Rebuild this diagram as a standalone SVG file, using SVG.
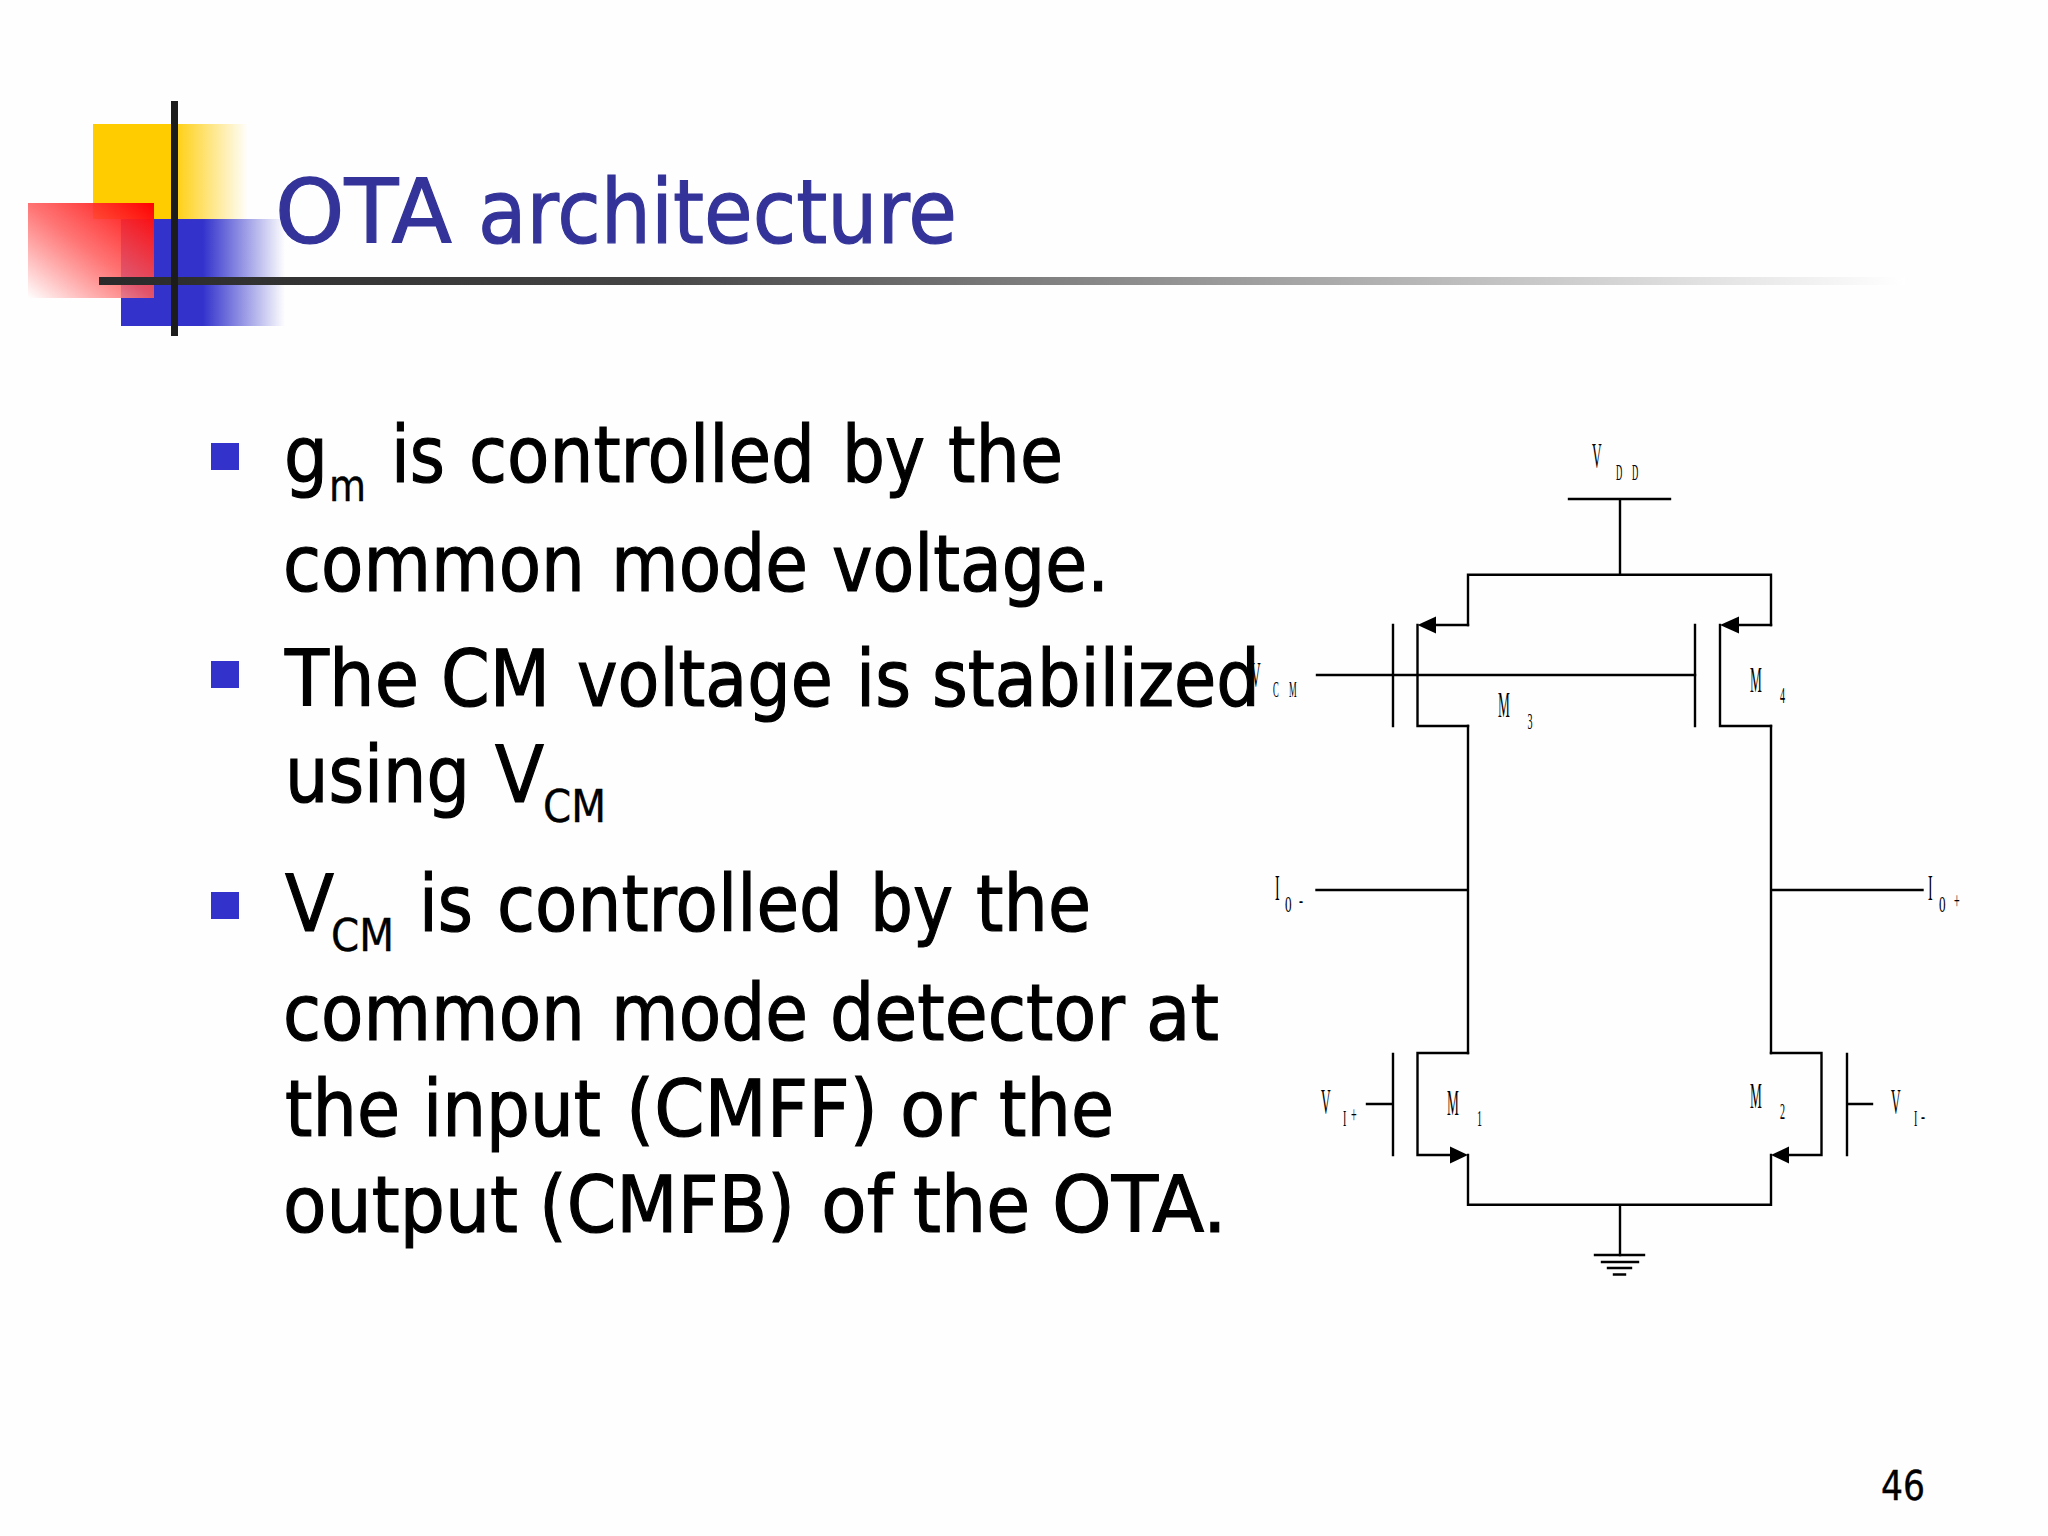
<svg xmlns="http://www.w3.org/2000/svg" width="2048" height="1536" viewBox="0 0 2048 1536">
<style>
.b{font-family:"DejaVu Sans","Noto Sans",sans-serif;font-size:78px;fill:#000;stroke:#000;stroke-width:1.2}
.s{font-family:"DejaVu Sans","Noto Sans",sans-serif;font-size:44px;fill:#000;stroke:#000;stroke-width:.4}
.t{font-family:"DejaVu Sans","Noto Sans",sans-serif;font-size:89px;fill:#333399;stroke:#333399;stroke-width:1.2}
.n{font-family:"DejaVu Sans","Noto Sans",sans-serif;font-size:40px;fill:#000;stroke:#000;stroke-width:.4}
.L{font-family:"Liberation Serif",serif;font-size:35px;fill:#000}
.l{font-family:"Liberation Serif",serif;font-size:24px;fill:#000}
.w{stroke:#000;stroke-width:2.4;fill:none;stroke-linecap:square}
.a{fill:#000}
.k{fill:#3333cc}
</style>
<defs>
<linearGradient id="gy" x1="0" x2="1" y1="0" y2="0"><stop offset="0" stop-color="#ffcc00"/><stop offset=".5" stop-color="#ffcc00"/><stop offset="1" stop-color="#ffcc00" stop-opacity="0"/></linearGradient>
<linearGradient id="gb" x1="0" x2="1" y1="0" y2="0"><stop offset="0" stop-color="#3333cc"/><stop offset=".5" stop-color="#3333cc"/><stop offset="1" stop-color="#3333cc" stop-opacity="0"/></linearGradient>
<linearGradient id="gr" x1="1" x2="0" y1="0" y2="1"><stop offset="0" stop-color="#ff0000"/><stop offset=".5" stop-color="#ff5a5a" stop-opacity=".85"/><stop offset="1" stop-color="#ffffff" stop-opacity=".95"/></linearGradient>
<linearGradient id="gl" gradientUnits="userSpaceOnUse" x1="99" x2="1905" y1="0" y2="0"><stop offset="0" stop-color="#2a2a2a"/><stop offset=".3" stop-color="#444444"/><stop offset="1" stop-color="#ffffff"/></linearGradient>
</defs>
<rect width="2048" height="1536" fill="#fefefe"/>
<g id="logo">
<rect x="93" y="124" width="155" height="95" fill="url(#gy)"/>
<rect x="121" y="219" width="164" height="107" fill="url(#gb)"/>
<rect x="28" y="203" width="126" height="95" fill="url(#gr)"/>
<rect x="99" y="277" width="1806" height="8" fill="url(#gl)"/>
<rect x="171" y="101" width="7" height="235" fill="#1c1c1c"/>
</g>
<text id="title" class="t" y="243"><tspan x="275" textLength="177" lengthAdjust="spacingAndGlyphs">OTA</tspan> <tspan x="478" textLength="479" lengthAdjust="spacingAndGlyphs">architecture</tspan></text>
<g id="connectors" class="w">
<path class="w" d="M1569 499H1670M1620 499V574.7M1468 625V574.7H1771V625M1468 726V1053M1771 726V1053M1317 675H1695M1316.5 890H1468M1771 890H1922.5M1468 1155V1204.7H1771V1155M1620 1204.7V1255"/>
</g>
<g id="M3">
<path class="w" d="M1393 625V726M1417.5 625V726H1468M1468 625H1430"/>
<polygon class="a" points="1417.5,625 1436,616.5 1436,633.5"/>
<text class="L" transform="translate(1498 717) scale(.38 1)">M</text>
<text class="l" transform="translate(1527.5 729) scale(.42 1)">3</text>
</g>
<g id="M4">
<path class="w" d="M1695 625V726M1720 625V726H1771M1771 625H1730"/>
<polygon class="a" points="1720,625 1739,616.5 1739,633.5"/>
<text class="L" transform="translate(1750 692) scale(.38 1)">M</text>
<text class="l" transform="translate(1780 703) scale(.42 1)">4</text>
</g>
<g id="M1">
<path class="w" d="M1393 1054V1155M1417.5 1155V1053H1468M1417.5 1155H1455M1367 1104H1393"/>
<polygon class="a" points="1468,1155 1450,1146.5 1450,1163.5"/>
<text class="L" transform="translate(1447 1115) scale(.38 1)">M</text>
<text class="l" transform="translate(1477 1126) scale(.42 1)">1</text>
</g>
<g id="M2">
<path class="w" d="M1847 1054V1155M1821.5 1155V1053H1771M1821.5 1155H1785M1847 1104H1872"/>
<polygon class="a" points="1771,1155 1789,1146.5 1789,1163.5"/>
<text class="L" transform="translate(1750 1108) scale(.38 1)">M</text>
<text class="l" transform="translate(1780 1119) scale(.42 1)">2</text>
</g>
<g id="vdd">
<text class="L" transform="translate(1592 468) scale(.38 1)">V</text>
<text class="l" transform="translate(1616 480) scale(.36 1)">D</text>
<text class="l" transform="translate(1632 480) scale(.36 1)">D</text>
</g>
<g id="vcm">
<text class="L" transform="translate(1251 687) scale(.38 1)">V</text>
<text class="l" transform="translate(1273 697) scale(.36 1)">C</text>
<text class="l" transform="translate(1289 697) scale(.36 1)">M</text>
</g>
<g id="io-minus">
<text class="L" transform="translate(1275 900) scale(.4 1)">I</text>
<text class="l" transform="translate(1285 912) scale(.55 1)">0</text>
<text class="l" transform="translate(1299 908) scale(.5 1)">-</text>
</g>
<g id="io-plus">
<text class="L" transform="translate(1928 900) scale(.4 1)">I</text>
<text class="l" transform="translate(1939 912) scale(.55 1)">0</text>
<text class="l" transform="translate(1954 908) scale(.42 1)">+</text>
</g>
<g id="vi-plus">
<text class="L" transform="translate(1321 1114) scale(.38 1)">V</text>
<text class="l" transform="translate(1343 1126) scale(.42 1)">I</text>
<text class="l" transform="translate(1351 1122) scale(.42 1)">+</text>
</g>
<g id="vi-minus">
<text class="L" transform="translate(1891 1114) scale(.38 1)">V</text>
<text class="l" transform="translate(1914 1126) scale(.42 1)">I</text>
<text class="l" transform="translate(1921 1124) scale(.5 1)">-</text>
</g>
<g id="ground">
<path class="w" d="M1595 1255H1644M1602 1262H1638M1608 1268H1631M1614 1274.5H1625" stroke-linecap="butt"/>
</g>
<g id="bullets">
<rect class="k" x="211" y="443" width="28" height="27"/>
<rect class="k" x="211" y="661" width="28" height="27"/>
<rect class="k" x="211" y="892" width="28" height="27"/>
</g>
<g id="body">
<text class="b" x="284" y="482" textLength="44" lengthAdjust="spacingAndGlyphs">g</text>
<text class="s" x="329" y="501" textLength="37" lengthAdjust="spacingAndGlyphs">m</text>
<text class="b" y="482"><tspan x="391" textLength="54" lengthAdjust="spacingAndGlyphs">is</tspan> <tspan x="469" textLength="346" lengthAdjust="spacingAndGlyphs">controlled</tspan> <tspan x="842" textLength="83" lengthAdjust="spacingAndGlyphs">by</tspan> <tspan x="948" textLength="115" lengthAdjust="spacingAndGlyphs">the</tspan></text>
<text class="b" y="591"><tspan x="283" textLength="302" lengthAdjust="spacingAndGlyphs">common</tspan> <tspan x="611" textLength="197" lengthAdjust="spacingAndGlyphs">mode</tspan> <tspan x="832" textLength="277" lengthAdjust="spacingAndGlyphs">voltage.</tspan></text>
<text class="b" y="706"><tspan x="285" textLength="134" lengthAdjust="spacingAndGlyphs">The</tspan> <tspan x="441" textLength="109" lengthAdjust="spacingAndGlyphs">CM</tspan> <tspan x="577" textLength="256" lengthAdjust="spacingAndGlyphs">voltage</tspan> <tspan x="856" textLength="55" lengthAdjust="spacingAndGlyphs">is</tspan> <tspan x="932" textLength="328" lengthAdjust="spacingAndGlyphs">stabilized</tspan></text>
<text class="b" x="285" y="802" textLength="185" lengthAdjust="spacingAndGlyphs">using</text>
<text class="b" x="495" y="802" textLength="49" lengthAdjust="spacingAndGlyphs">V</text>
<text class="s" x="543" y="822" textLength="63" lengthAdjust="spacingAndGlyphs">CM</text>
<text class="b" x="285" y="931" textLength="49" lengthAdjust="spacingAndGlyphs">V</text>
<text class="s" x="331" y="951" textLength="63" lengthAdjust="spacingAndGlyphs">CM</text>
<text class="b" y="931"><tspan x="419" textLength="54" lengthAdjust="spacingAndGlyphs">is</tspan> <tspan x="497" textLength="346" lengthAdjust="spacingAndGlyphs">controlled</tspan> <tspan x="870" textLength="83" lengthAdjust="spacingAndGlyphs">by</tspan> <tspan x="976" textLength="115" lengthAdjust="spacingAndGlyphs">the</tspan></text>
<text class="b" y="1040"><tspan x="283" textLength="302" lengthAdjust="spacingAndGlyphs">common</tspan> <tspan x="611" textLength="197" lengthAdjust="spacingAndGlyphs">mode</tspan> <tspan x="830" textLength="295" lengthAdjust="spacingAndGlyphs">detector</tspan> <tspan x="1146" textLength="73" lengthAdjust="spacingAndGlyphs">at</tspan></text>
<text class="b" y="1136"><tspan x="285" textLength="115" lengthAdjust="spacingAndGlyphs">the</tspan> <tspan x="423" textLength="178" lengthAdjust="spacingAndGlyphs">input</tspan> <tspan x="626" textLength="252" lengthAdjust="spacingAndGlyphs">(CMFF)</tspan> <tspan x="900" textLength="76" lengthAdjust="spacingAndGlyphs">or</tspan> <tspan x="999" textLength="115" lengthAdjust="spacingAndGlyphs">the</tspan></text>
<text class="b" y="1232"><tspan x="283" textLength="235" lengthAdjust="spacingAndGlyphs">output</tspan> <tspan x="539" textLength="256" lengthAdjust="spacingAndGlyphs">(CMFB)</tspan> <tspan x="821" textLength="72" lengthAdjust="spacingAndGlyphs">of</tspan> <tspan x="913" textLength="117" lengthAdjust="spacingAndGlyphs">the</tspan> <tspan x="1052" textLength="175" lengthAdjust="spacingAndGlyphs">OTA.</tspan></text>
</g>
<text id="page" class="n" x="1881" y="1500" textLength="44" lengthAdjust="spacingAndGlyphs">46</text>
</svg>
